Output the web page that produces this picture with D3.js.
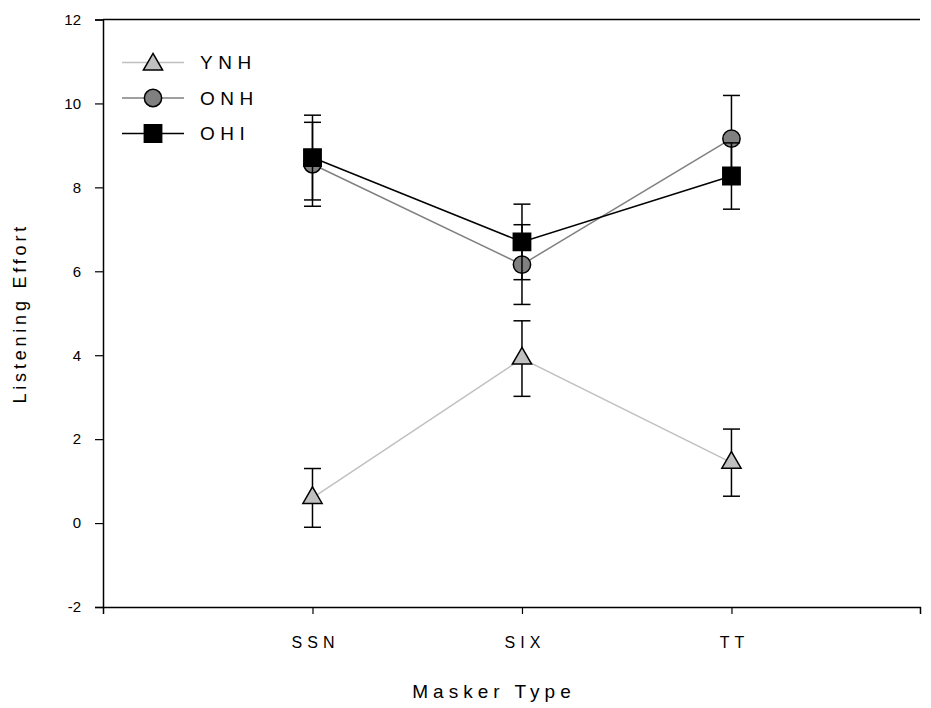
<!DOCTYPE html>
<html>
<head>
<meta charset="utf-8">
<script src="https://cdn.jsdelivr.net/npm/d3@7"></script>
<style>
  body { margin: 0; background: #fff; }
  text { font-family: "Liberation Sans", Arial, sans-serif; fill: #000; }
</style>
</head>
<body>
<div id="chart"></div>
<script>
// masker types on the x axis
const categories = ["SSN", "SIX", "TT"];
const xPos = [1, 2, 3];

// group means and error bar half widths
const ynhMean = [0.60, 3.92, 1.44];
const ynhErr = [0.70, 0.90, 0.80];
const onhMean = [8.55, 6.16, 9.16];
const onhErr = [1.00, 0.95, 1.03];
const ohiMean = [8.71, 6.70, 8.27];
const ohiErr = [1.01, 0.90, 0.79];

const yTicks = [-2, 0, 2, 4, 6, 8, 10, 12];

const seriesNames = ["YNH", "ONH", "OHI"];
const seriesLine = ["#c0c0c0", "#808080", "#000000"];
const seriesFill = ["#c0c0c0", "#808080", "#000000"];
const seriesSymbol = [d3.symbolTriangle, d3.symbolCircle, d3.symbolSquare];

const series = [
	{name: seriesNames[0], mean: ynhMean, err: ynhErr},
	{name: seriesNames[1], mean: onhMean, err: onhErr},
	{name: seriesNames[2], mean: ohiMean, err: ohiErr}
];

var width = 931, height = 708;
var margin = {top: 19.5, right: 11, bottom: 101, left: 103};

var svg = d3.select("#chart")
	.append("svg")
	.attr("width", width)
	.attr("height", height);

// x is numeric so the categories sit at 1,2,3 like the original
var x = d3.scaleLinear()
	.domain([0, 3.9])
	.range([margin.left, width - margin.right]);

var y = d3.scaleLinear()
	.domain([-2, 12])
	.range([height - margin.bottom, margin.top]);

// frame: top line
svg.append("line")
	.attr("x1", x(0)).attr("x2", x(3.9))
	.attr("y1", y(12)).attr("y2", y(12))
	.attr("stroke", "#000").attr("stroke-width", 1.5);

// Y axis
var yAxis = svg.append("g")
	.attr("transform", "translate(" + x(0) + ",0)")
	.call(d3.axisLeft(y).tickValues(yTicks).tickFormat(d => String(d))
		.tickSizeOuter(0).tickSize(8).tickPadding(14));
yAxis.select(".domain").attr("stroke-width", 1.5);
yAxis.selectAll(".tick line").attr("stroke-width", 1.2);
yAxis.selectAll("text").style("font-size", "15px");

// X axis
var xAxis = svg.append("g")
	.attr("transform", "translate(0," + y(-2) + ")")
	.call(d3.axisBottom(x).tickValues(xPos).tickFormat((d, i) => categories[i])
		.tickSizeOuter(0).tickSize(7).tickPadding(23));
xAxis.select(".domain").attr("stroke-width", 1.5);
xAxis.selectAll(".tick line").attr("stroke-width", 1.2);
xAxis.selectAll("text").style("font-size", "16px").style("letter-spacing", "5px")
	.attr("dx", "2.5px");

// axis titles
svg.append("text")
	.attr("x", 494).attr("y", 698)
	.attr("text-anchor", "middle")
	.style("font-size", "19px").style("letter-spacing", "5px")
	.text("Masker Type");

svg.append("text")
	.attr("transform", "translate(26," + y(5) + ") rotate(-90)")
	.attr("text-anchor", "middle")
	.style("font-size", "18px").style("letter-spacing", "3.8px")
	.text("Listening Effort");

var symSize = [160, 235, 300];

// connecting lines first
var line = d3.line()
	.x((d, i) => x(xPos[i]))
	.y(d => y(d));

series.forEach((s, k) => {
	svg.append("path")
		.attr("d", line(s.mean))
		.attr("fill", "none")
		.attr("stroke", seriesLine[k])
		.attr("stroke-width", 1.5);
});

// then error bars and markers for each group
series.forEach((s, k) => {
	var g = svg.append("g");
	s.mean.forEach((m, i) => {
		var cx = x(xPos[i]);
		g.append("line")
			.attr("x1", cx).attr("x2", cx)
			.attr("y1", y(m - s.err[i])).attr("y2", y(m + s.err[i]))
			.attr("stroke", "#000").attr("stroke-width", 1.5);
		[m - s.err[i], m + s.err[i]].forEach(v => {
			g.append("line")
				.attr("x1", cx - 8.5).attr("x2", cx + 8.5)
				.attr("y1", y(v)).attr("y2", y(v))
				.attr("stroke", "#000").attr("stroke-width", 1.5);
		});
	});
	g.selectAll("path.pt")
		.data(s.mean)
		.enter()
		.append("path")
		.attr("class", "pt")
		.attr("transform", (d, i) => "translate(" + x(xPos[i]) + "," + y(d) + ")")
		.attr("d", d3.symbol().type(seriesSymbol[k]).size(symSize[k]))
		.attr("fill", seriesFill[k])
		.attr("stroke", "#000")
		.attr("stroke-width", 1.5);
});

// legend
var legend = svg.append("g");
series.forEach((s, k) => {
	var ly = 62.5 + k * 35.5;
	legend.append("line")
		.attr("x1", 122).attr("x2", 184)
		.attr("y1", ly).attr("y2", ly)
		.attr("stroke", seriesLine[k]).attr("stroke-width", 1.5);
	legend.append("path")
		.attr("transform", "translate(153," + (k == 0 ? ly + 2 : ly) + ")")
		.attr("d", d3.symbol().type(seriesSymbol[k]).size(symSize[k]))
		.attr("fill", seriesFill[k])
		.attr("stroke", "#000")
		.attr("stroke-width", 1.5);
	legend.append("text")
		.attr("x", 200).attr("y", ly)
		.attr("dy", "0.36em")
		.style("font-size", "19px").style("letter-spacing", "5.5px")
		.text(s.name);
});
</script>
</body>
</html>
